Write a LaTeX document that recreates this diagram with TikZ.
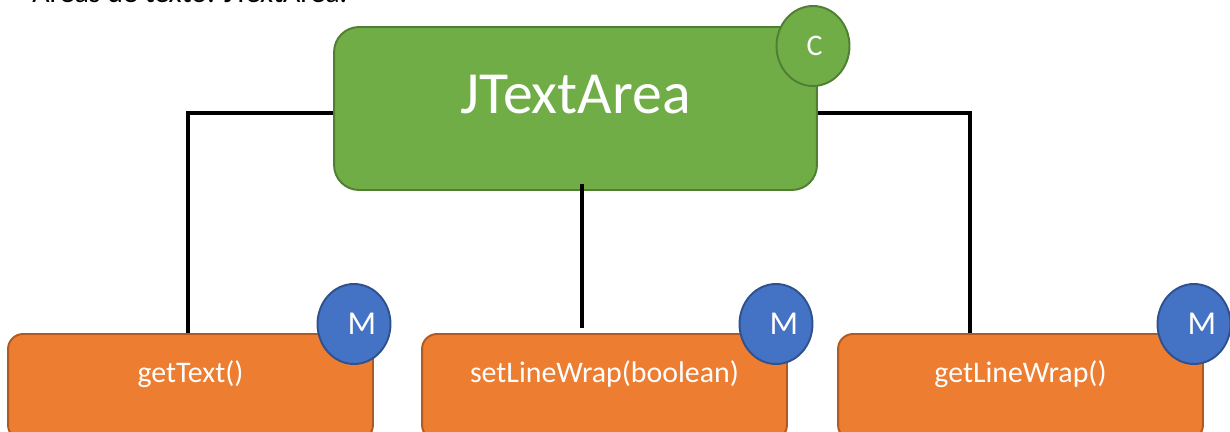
\documentclass[tikz,border=0pt]{standalone}
\usepackage{fontspec}
\setmainfont{Carlito}
\usetikzlibrary{shapes.geometric}

\definecolor{classfill}{HTML}{70AD47}
\definecolor{classedge}{HTML}{507E32}
\definecolor{methodfill}{HTML}{ED7D31}
\definecolor{methodedge}{HTML}{AE5A21}
\definecolor{badgefill}{HTML}{4472C4}
\definecolor{badgeedge}{HTML}{2F528F}

\begin{document}
\begin{tikzpicture}[x=0.02cm, y=-0.02cm]
    % Define styles
    \tikzset{
        classbox/.style={
            draw=classedge,
            fill=classfill,
            line width=1.1pt,
            rounded corners=0.5cm,
            minimum width=9.66cm,
            minimum height=3.26cm,
            text=white,
            font=\fontsize{34}{40}\selectfont,
            text height=0.84cm,
            text depth=0.62cm
        },
        methodbox/.style={
            draw=methodedge,
            fill=methodfill,
            line width=1.1pt,
            rounded corners=0.3cm,
            minimum width=7.3cm,
            minimum height=2.12cm,
            text=white,
            font=\fontsize{17}{20}\selectfont,
            text height=0.45cm,
            text depth=0.63cm
        },
        badge/.style={
            ellipse,
            line width=1.1pt,
            minimum width=1.46cm,
            minimum height=1.6cm,
            inner sep=0pt,
            text=white,
            font=\fontsize{19}{22}\selectfont
        },
        link/.style={
            black,
            line width=2.2pt
        }
    }

    \useasboundingbox (0,0) rectangle (1230,432);

    % Heading (cut off by the page top)
    \node[anchor=base west, font=\fontsize{17}{20}\selectfont, inner sep=0pt] (heading) at (32,3) {Áreas de texto: JTextArea.};

    % Class
    \node[classbox] (area) at (575.5,108.5) {JTextArea};

    % Methods
    \node[methodbox] (gettext) at (190.5,387) {getText()};
    \node[methodbox] (setwrap) at (604.5,387) {setLineWrap(boolean)};
    \node[methodbox] (getwrap) at (1020.5,387) {getLineWrap()};

    % Connectors
    \coordinate (midtop) at ([xshift=0.13cm,yshift=0.14cm]area.south);
    \draw[link] ([yshift=-0.09cm]area.west) -| ([xshift=-0.05cm]gettext.north);
    \draw[link, shorten >=0.1cm] (midtop) -- (midtop |- setwrap.north);
    \draw[link] ([yshift=-0.09cm]area.east) -| ([xshift=-1.01cm]getwrap.north);

    % Badges
    \node[badge, draw=classedge, fill=classfill, font=\fontsize{17}{20}\selectfont] (cbadge) at (813,46) {\hspace{0.06cm}C};
    \foreach \name/\x in {mget/354, mset/776, mwrap/1194}
        \node[badge, draw=badgeedge, fill=badgefill] (\name) at (\x,324) {\hspace{0.32cm}M};

\end{tikzpicture}
\end{document}
